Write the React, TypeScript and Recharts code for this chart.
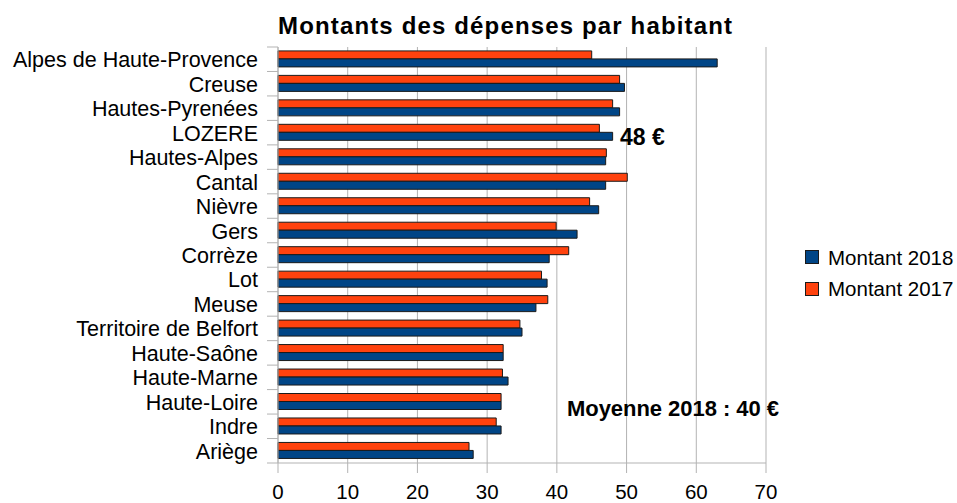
import { BarChart, Bar, XAxis, YAxis, CartesianGrid } from 'recharts'

// Montants des dépenses par habitant (€), par département
const departements = [
  'Alpes de Haute-Provence',
  'Creuse',
  'Hautes-Pyrenées',
  'LOZERE',
  'Hautes-Alpes',
  'Cantal',
  'Nièvre',
  'Gers',
  'Corrèze',
  'Lot',
  'Meuse',
  'Territoire de Belfort',
  'Haute-Saône',
  'Haute-Marne',
  'Haute-Loire',
  'Indre',
  'Ariège',
]
const montant2018 = [63, 49.7, 49, 48, 47, 47, 46, 42.9, 38.9, 38.6, 37, 35, 32.3, 33, 32, 32, 28]
const montant2017 = [45, 49, 48, 46.1, 47.1, 50.1, 44.7, 39.9, 41.7, 37.8, 38.7, 34.7, 32.3, 32.2, 32, 31.3, 27.4]
const xTicks = [0, 10, 20, 30, 40, 50, 60, 70]

const W = 957
const H = 503
const MARGIN = { top: 47, right: 191, bottom: 0, left: 0 }
const Y_AXIS_WIDTH = 278
const X_AXIS_HEIGHT = 40
const BAND = (H - MARGIN.top - X_AXIS_HEIGHT) / departements.length

const BLUE = '#004586'
const ORANGE = '#ff420e'
const GRID = '#b3b3b3'
const FONT = '"Liberation Sans", Arial, sans-serif'

const data = departements.map((name, i) => ({
  name,
  m2018: montant2018[i],
  m2017: montant2017[i],
}))

function CategoryTick(props: any) {
  const { x, y, payload, index, visibleTicksCount } = props
  const last = index === visibleTicksCount - 1
  return (
    <g>
      <text x={x} y={y} dy={8} textAnchor="end" fontSize={21.5} fontFamily={FONT} fill="#000">
        {payload.value}
      </text>
      <line x1={Y_AXIS_WIDTH - 11} x2={Y_AXIS_WIDTH} y1={y - BAND / 2} y2={y - BAND / 2} stroke={GRID} />
      {last && (
        <line x1={Y_AXIS_WIDTH - 11} x2={Y_AXIS_WIDTH} y1={y + BAND / 2} y2={y + BAND / 2} stroke={GRID} />
      )}
    </g>
  )
}

export default function App() {
  return (
    <div style={{ position: 'absolute', left: 0, top: 0, width: W, height: H, background: '#fff' }}>
      <BarChart
        width={W}
        height={H}
        data={data}
        layout="vertical"
        margin={MARGIN}
        barCategoryGap="16%"
        barGap={0}
      >
        <CartesianGrid horizontal={false} stroke={GRID} />
        <XAxis
          type="number"
          domain={[0, 70]}
          ticks={xTicks}
          height={X_AXIS_HEIGHT}
          axisLine={{ stroke: GRID }}
          tickLine={{ stroke: GRID }}
          tickSize={10}
          tickMargin={11}
          tick={{ fill: '#000', fontSize: 20.5, fontFamily: FONT }}
        />
        <XAxis
          xAxisId="top"
          orientation="top"
          type="number"
          domain={[0, 70]}
          height={0}
          tick={false}
          tickLine={false}
          axisLine={{ stroke: GRID }}
        />
        <YAxis
          type="category"
          dataKey="name"
          width={Y_AXIS_WIDTH}
          axisLine={{ stroke: GRID }}
          tickLine={false}
          tickSize={0}
          tickMargin={20}
          interval={0}
          tick={<CategoryTick />}
        />
        <Bar dataKey="m2017" fill={ORANGE} stroke="#1a1a1a" strokeWidth={1} isAnimationActive={false} />
        <Bar dataKey="m2018" fill={BLUE} stroke="#1a1a1a" strokeWidth={1} isAnimationActive={false} />
      </BarChart>
      <svg
        width={W}
        height={H}
        style={{ position: 'absolute', left: 0, top: 0, pointerEvents: 'none' }}
        fontFamily={FONT}
      >
        <text x={505} y={34} textAnchor="middle" fontSize={24} fontWeight="bold" fill="#000" textLength={454}>
          Montants des dépenses par habitant
        </text>
        <text x={620} y={145} fontSize={23} fontWeight="bold" fill="#000">
          48 €
        </text>
        <text x={567} y={416} fontSize={22} fontWeight="bold" fill="#000" textLength={213} letterSpacing={1}>
          Moyenne 2018 : 40 €
        </text>
        <rect x={805.5} y={250.5} width={13} height={13} fill={BLUE} stroke="#1a1a1a" />
        <text x={828} y={265} fontSize={20.5} fill="#000">Montant 2018</text>
        <rect x={805.5} y={282.5} width={13} height={13} fill={ORANGE} stroke="#1a1a1a" />
        <text x={828} y={296} fontSize={20.5} fill="#000">Montant 2017</text>
      </svg>
    </div>
  )
}
